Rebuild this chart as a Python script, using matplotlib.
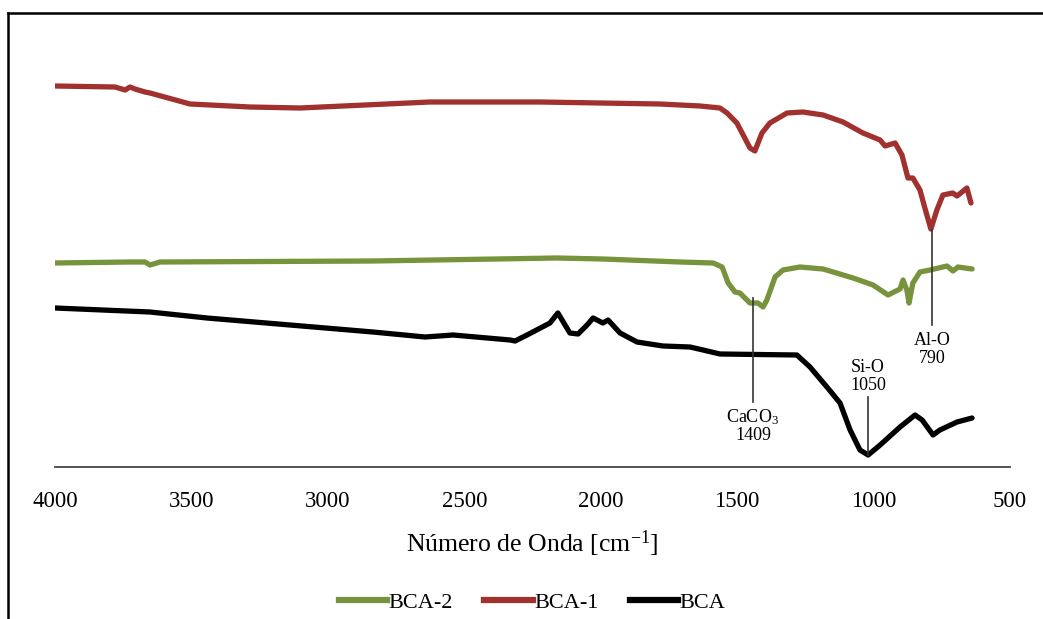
import matplotlib
matplotlib.use("Agg")
import matplotlib.pyplot as plt
from matplotlib.lines import Line2D

plt.rcParams['font.family'] = ['Liberation Serif', 'DejaVu Serif']
plt.rcParams['mathtext.fontset'] = 'custom'
plt.rcParams['mathtext.rm'] = 'Liberation Serif'
plt.rcParams['mathtext.it'] = 'Liberation Serif:italic'

# ---- data (wavenumber cm-1, offset intensity in arbitrary units) ----
bca1_wn = [4000, 3780, 3743, 3725, 3707, 3670, 3652, 3505, 3285, 3102, 2626, 2222, 2003, 1783, 1636, 1563,
           1537, 1501, 1453, 1435, 1409, 1380, 1317, 1259, 1185, 1112, 1039, 976, 958,
           921, 896, 874, 856, 830, 812, 790, 768, 746, 710, 694, 658, 643]
bca1_y = [381, 380, 377, 380, 378, 375, 374, 363, 360, 359, 365, 365, 364, 363, 361, 359,
          354, 344, 319, 316, 334, 344, 354, 355, 352, 345, 334, 327, 321,
          324, 312, 289, 289, 277, 259, 238, 257, 272, 274, 271, 279, 264]

bca2_wn = [4000, 3725, 3670, 3652, 3615, 2835, 2160, 1992, 1709, 1588, 1555, 1533, 1508,
           1490, 1453, 1424, 1405, 1391, 1361, 1332, 1270, 1185, 1075, 1002, 947, 903,
           892, 878, 870, 856, 830, 793, 731, 709, 691, 639]
bca2_y = [204, 205, 205, 202, 205, 206, 209, 208, 205, 204, 200, 184, 175,
          174, 164, 164, 160, 167, 190, 197, 200, 198, 189, 182, 172, 178,
          187, 177, 164, 184, 195, 197, 201, 196, 200, 198]

bca_wn = [4000, 3652, 3443, 2835, 2644, 2541, 2332, 2314, 2270, 2186, 2157, 2113, 2083,
          2050, 2028, 1992, 1973, 1929, 1867, 1772, 1673, 1625, 1563, 1281, 1233, 1171,
          1123, 1086, 1050, 1020, 976, 903, 848, 822, 782, 757, 694, 639]
bca_y = [159, 155, 149, 135, 130, 132, 127, 126, 132, 144, 154, 134, 133,
         142, 149, 144, 147, 134, 125, 121, 120, 117, 113, 112, 100, 80,
         64, 37, 17, 12, 22, 40, 52, 47, 32, 37, 45, 49]

# annotations: label, position, line bottom, line top
annot_labels = ['CaCO$_3$\n1409', 'Si-O\n1050', 'Al-O\n790']
annot_wn = [1442, 1020, 786]
annot_low = [65, 12, 142]
annot_high = [169, 70, 237]

xticks = [4000, 3500, 3000, 2500, 2000, 1500, 1000, 500]

c_green = '#77933C'
c_red = '#A0312F'
c_black = '#000000'

fig = plt.figure(figsize=(10.43, 6.19), dpi=100)
ax = fig.add_axes([55 / 1043, (619 - 467) / 619, (1010 - 55) / 1043, 454 / 619])

kw = dict(lw=3.8, solid_capstyle='round', solid_joinstyle='round')
ax.plot(bca2_wn, bca2_y, color=c_green, label='BCA-2', **kw)
ax.plot(bca1_wn, bca1_y, color=c_red, label='BCA-1', **kw)
ax.plot(bca_wn, bca_y, color=c_black, label='BCA', **kw)

for lab, wn, lo, hi in zip(annot_labels, annot_wn, annot_low, annot_high):
    ax.plot([wn, wn], [lo, hi], color='#333333', lw=1.2)

ax.text(annot_wn[0], annot_low[0] - 5, annot_labels[0], ha='center', va='top', fontsize=13, linespacing=1.0)
ax.text(annot_wn[1], annot_high[1] + 3, annot_labels[1], ha='center', va='bottom', fontsize=13, linespacing=1.1)
ax.text(annot_wn[2], annot_low[2] - 7, annot_labels[2], ha='center', va='top', fontsize=13, linespacing=1.1)

ax.set_xlim(4000, 500)
ax.set_ylim(0, 454)
ax.set_xticks(xticks)
ax.set_xticklabels([str(t) for t in xticks], fontsize=16.5)
ax.tick_params(axis='x', length=0, pad=17)
ax.set_yticks([])
for s in ['top', 'right', 'left']:
    ax.spines[s].set_visible(False)
ax.spines['bottom'].set_color('#444444')
ax.spines['bottom'].set_linewidth(1.3)
ax.set_xlabel('Número de Onda [cm$^{\\mathrm{-1}}$]', fontsize=18.5, labelpad=12)

handles = [Line2D([], [], color=c_green, lw=4.5),
           Line2D([], [], color=c_red, lw=4.5),
           Line2D([], [], color=c_black, lw=4.5)]
fig.legend(handles, ['BCA-2', 'BCA-1', 'BCA'], loc='center', bbox_to_anchor=(532 / 1043, 1 - 603 / 619),
           ncol=3, frameon=False, fontsize=16, handlelength=2.2, handletextpad=0.05, columnspacing=1.4)

# figure border (left and top)
fig.add_artist(Line2D([8 / 1043, 8 / 1043], [0, 1 - 13 / 619], color='black', lw=1.8, transform=fig.transFigure))
fig.add_artist(Line2D([8 / 1043, 1], [1 - 13 / 619, 1 - 13 / 619], color='black', lw=1.8, transform=fig.transFigure))

fig.savefig('out.png', dpi=100)
